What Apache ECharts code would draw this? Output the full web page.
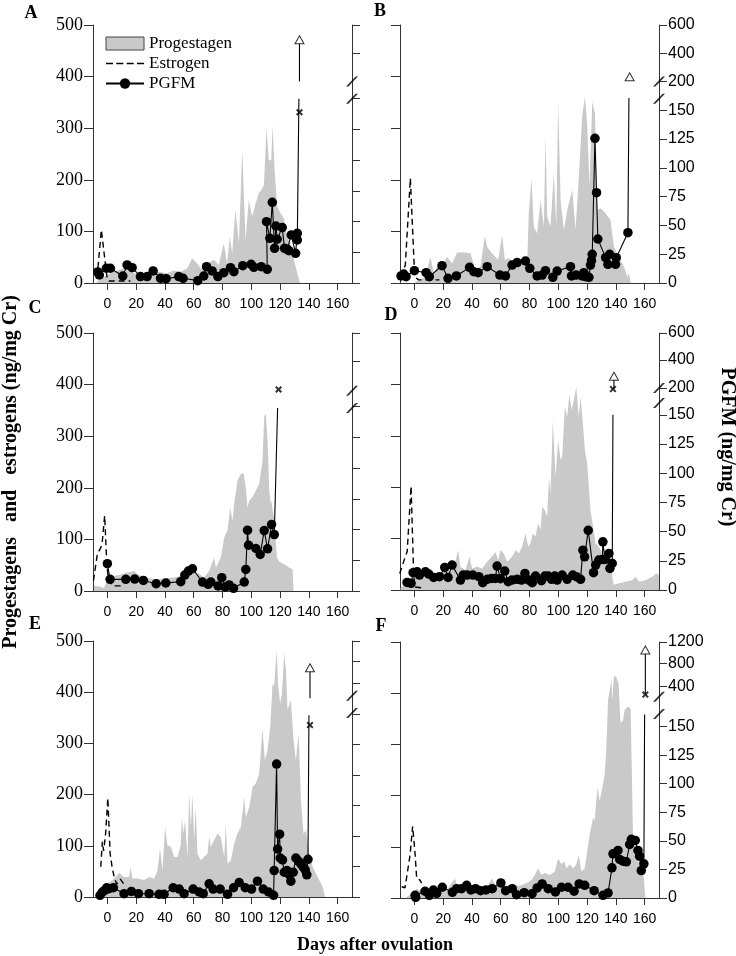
<!DOCTYPE html>
<html>
<head>
<meta charset="utf-8">
<script src="https://cdn.jsdelivr.net/npm/echarts@6/dist/echarts.min.js"></script>
<style>
  html, body { margin: 0; background: #fff; }
  #chart { width: 736px; height: 956px; }
</style>
</head>
<body>
<div id="chart"></div>
<script>
  // tick labels
  const dayTicks = [0, 20, 40, 60, 80, 100, 120, 140, 160]
  const pgfmLowTicks = [0, 25, 50, 75, 100, 125, 150]

  // progestagens (day, ng/mg Cr)
  const progA = [[-7.2,3],[-2.6,12],[4.4,22],[11.4,28],[18.3,19],[25.3,15],[31.1,26],[34.6,22],[41.5,19],[46.1,24],[50.8,22],[55.4,28],[58.9,48],[62.4,38],[65.9,25],[69.3,38],[74,45],[77.4,35],[80.9,77],[83.2,38],[85.1,90],[86.7,57],[89,141],[91.4,77],[93.7,258],[96,83],[98.3,161],[100.6,129],[103,154],[105.3,175],[107,180],[108.8,190],[110.6,300],[112.2,238],[113.9,238],[114.8,306],[116.2,219],[118,148],[120.3,135],[122.7,125],[124.5,96],[126.1,83],[127.3,77],[129.6,45],[132,19],[133.8,0]]
  const progB = [[0.7,3],[4.2,7],[7.7,12],[11.1,51],[13.4,19],[15.8,32],[18.1,25],[22.7,51],[26.2,38],[29.7,59],[35.5,59],[39,57],[42.4,25],[45.9,32],[48.9,90],[50.6,70],[54,57],[58.2,45],[61,93],[62.8,45],[65.6,48],[70.3,38],[74.9,41],[78.4,38],[79.5,135],[81.4,203],[83,109],[85.3,96],[87.7,161],[90,109],[91.1,287],[92.3,129],[94.6,109],[96.9,213],[98.6,109],[99.9,351],[101.6,161],[103.9,103],[106.2,141],[109.7,180],[112,103],[114.3,206],[116.6,322],[118.5,361],[120.1,309],[121.7,187],[123.6,351],[125.5,329],[127.1,141],[129.4,145],[132.9,135],[136.3,122],[138.7,70],[142.1,51],[145.6,32],[147.9,12],[149.1,19],[150.3,0]]
  const progC = [[-9.3,10],[-4.6,8],[-2.3,6],[-0.5,20],[0,26],[4.6,29],[9.3,32],[13.9,36],[18.6,39],[20.9,32],[27.8,25],[34.8,23],[41.7,25],[46.4,26],[51,29],[55.7,36],[62.6,36],[67.2,26],[70.7,39],[74.2,65],[75.4,45],[78.8,65],[81.2,104],[83.5,117],[85.3,162],[87,136],[88.1,169],[90.4,214],[92.8,227],[94.6,228],[96.2,201],[97.4,162],[98.6,175],[100.9,182],[103.2,195],[105.5,208],[107.8,253],[109,337],[110.1,344],[111.3,292],[112.5,195],[113.6,169],[114.1,175],[114.8,156],[115.9,143],[117.8,65],[119.4,57],[122.9,52],[126.4,45],[128.7,42],[129.4,0]]
  const progD = [[-9.7,3],[-6.3,13],[-1.6,19],[3,29],[6.5,32],[8.8,26],[12.3,23],[16.9,32],[21.6,36],[27.4,42],[30.4,78],[32,45],[35.5,39],[38.3,65],[40.1,42],[43.6,45],[47.1,42],[50.6,55],[54,65],[56.3,74],[58.2,58],[59.8,78],[62.1,71],[64.5,55],[67.9,65],[70.7,78],[72.6,71],[74.9,84],[77.2,110],[79.1,84],[80.7,91],[82.3,110],[84.2,104],[86,130],[87.7,117],[88.8,162],[90.7,155],[92.3,142],[93.5,220],[94.6,188],[96.2,330],[98.1,220],[99.9,291],[101.6,253],[102.7,259],[104.6,356],[106.2,337],[107.8,382],[109.2,350],[110.8,369],[112.5,395],[114.3,337],[115.5,376],[117.1,324],[118.5,272],[120.1,246],[122.4,155],[125.9,91],[128.2,84],[130.6,71],[134,78],[136.3,65],[137.5,26],[138.7,10],[142.1,13],[146.8,16],[151.4,19],[153.7,26],[156.1,16],[160.7,19],[165.3,26],[168.1,32],[170,29]]
  const progE = [[-5.8,1],[-3.5,13],[0,26],[3.5,33],[5.8,39],[8.1,47],[11.6,39],[15.1,39],[16.2,59],[17.4,36],[20.9,36],[25.5,33],[29,39],[32.5,36],[34.8,52],[36.6,95],[38.3,52],[40.1,137],[41.7,101],[44.1,98],[46.4,78],[48.7,78],[51,101],[51.7,156],[52.9,124],[54,150],[55.7,78],[56.8,202],[58,137],[59.1,200],[60.3,111],[61.4,176],[62.6,85],[64.9,72],[67.2,78],[69.6,85],[70.7,117],[71.9,98],[74.2,111],[76.5,124],[78.8,117],[81.2,78],[82.3,143],[83.5,65],[85.8,72],[88.1,104],[90.4,124],[92.8,137],[95.1,196],[96.2,156],[98.6,176],[100.9,215],[103.2,222],[105.5,241],[107.8,329],[109.4,267],[111.3,287],[113.2,333],[114.8,417],[115.9,411],[117.6,482],[118.7,411],[120.1,378],[121.3,398],[122.9,476],[124.1,443],[125.2,365],[126.4,365],[127.5,385],[129.4,306],[131,267],[132.9,319],[134.5,189],[136.3,124],[138,130],[140.3,85],[142.6,59],[144.9,46],[147.2,33],[149.6,20],[150.7,18],[151.2,0]]
  const progF = [[-5.3,2],[-1.8,9],[1.6,18],[5.1,12],[9.7,15],[14.3,12],[19,18],[22.4,15],[28.2,38],[30.5,18],[35.1,22],[39.8,22],[45.5,18],[51.3,25],[53.6,38],[57.1,22],[62.9,25],[68.7,22],[74.5,25],[79.1,31],[81.4,35],[83.7,45],[86,58],[88.3,45],[90.6,49],[94.1,45],[97.6,52],[99.9,77],[102.2,66],[104,72],[105.7,58],[108,66],[110.3,58],[112.6,66],[114.2,84],[116.1,52],[118.4,58],[119.5,79],[121.8,124],[124.2,157],[125.3,151],[127.2,216],[128.8,190],[129.9,190],[131.1,223],[132.3,241],[133.4,294],[134.6,387],[135.7,405],[136.9,426],[137.6,387],[138.7,434],[140.3,431],[141.9,418],[143.3,341],[145,347],[146.1,367],[148.4,374],[150.3,370],[151.9,124],[154.2,85],[157.7,52],[159.5,39],[160.5,0]]

  // estrogens (day, ng/mg Cr)
  const estA = [[-7.2,10],[-4.2,103],[-0.2,9],[1,4],[16,4]]
  const estB = [[-9.3,12],[-6.3,35],[-2.8,203],[0.2,12],[3,6],[17.4,6]]
  const estC = [[-9.7,20],[-7,71],[-4.6,84],[-3.5,97],[-1.9,146],[-0.5,58],[0.5,26],[3.5,10],[11.6,10]]
  const estD = [[-10.2,32],[-6.3,65],[-5,75],[-2.3,202],[-0.6,39],[0.2,6],[1.3,4],[5.3,4]]
  const estE = [[-4.6,59],[-3.5,108],[-2.6,90],[-1.2,125],[0.3,193],[1.9,85],[3.2,60],[4.6,40],[6.5,25],[9,35],[12.8,20]]
  const estF = [[-8.8,22],[-6.5,20],[-3,84],[-1.2,140],[0.5,85],[1.6,38],[3.9,35],[5,29]]

  // PGFM (day, ng/mg Cr on the lower, unbroken part of the right axis)
  const pgfmA = [[-6.7,9],[-5.6,6.5],[-0.7,12],[2.1,12],[10.7,5.7],[13.7,14.7],[17.2,12.5],[23,5.2],[27.6,5.2],[31.8,9.8],[36.9,3.8],[40.8,3.5],[49.6,5.2],[52.6,3.8],[62.8,1.9],[67,5.7],[68.9,13.3],[72.8,9.8],[76.8,5.2],[80.9,8.4],[85.6,12.5],[87.9,9.2],[94.1,14.1],[99.9,15.2],[101.8,12.8],[106.9,13.3],[111.1,11.1],[110.6,49.9],[112.9,36.4],[114.6,65.7],[116.2,28.2],[117.1,46.4],[118,35.6],[121.5,45.1],[123.1,28.2],[125,27.4],[126.1,26.3],[127.8,39.1],[130.8,24.2],[132,40.4],[132,35]]
  const pgfmB = [[-9.3,6.1],[-7.4,7.8],[-5.8,5.5],[0,10.7],[8.1,9],[10.4,5.5],[19.2,15],[23.4,4.1],[29.2,6.1],[38.3,13.6],[41.3,9.8],[44.3,9],[50.6,14.2],[59.4,6.9],[63.3,6.1],[67.9,15.6],[71.4,17.7],[77.2,19.1],[80.2,12.7],[85.3,6.1],[88.8,6.9],[91.1,10.7],[96.2,4.9],[99.2,10.4],[108.5,14.2],[109.2,6.1],[112.5,6.9],[116.6,6.1],[117.8,9],[119,5.5],[121.3,4.9],[122.4,15.6],[123.1,19.4],[123.6,24.9],[125.5,125.6],[126.6,78.4],[127.5,38.2],[132.9,22],[134.5,16.2],[135.7,24.9],[139.8,16.2],[140.3,22],[148.4,43.7]]
  const pgfmC = [[0,22.2],[1.9,9.5],[12.8,9.5],[19,9.7],[25,8.6],[33.9,5.9],[40.6,6.5],[51,7.6],[53.8,13],[56.3,16.2],[59.1,18.1],[66.1,7.3],[70,5.4],[71.9,7.3],[77,4.1],[79.5,10.8],[81.9,3.2],[84.6,4.9],[87.7,2.2],[95.1,7.3],[96.2,17.6],[97.4,49.5],[98.1,37.3],[103.2,34.6],[106.2,29.7],[109,49.2],[111.3,34.3],[114.1,54.1],[116,45.9]]
  const pgfmD = [[-5.1,6.5],[-2.3,5.7],[-0.9,14.8],[1.9,15.6],[3.5,12.8],[7.7,15.6],[10,13.6],[13.4,10.8],[17.4,11.4],[21.1,19.3],[23.4,10.8],[26.2,21.3],[32,8.5],[33.9,12.8],[36.6,12.8],[40.6,12.8],[44.8,11.4],[47.5,6.3],[50.6,9.1],[53.6,9.9],[56.3,9.9],[57.5,20.5],[59.8,9.7],[62.8,16.2],[65.2,7.1],[67.9,8.5],[71.4,9.1],[74.4,8.5],[76.8,14.2],[79.5,8.5],[81.9,6.3],[84.2,11.9],[88.3,8],[90.7,11.9],[93,11.9],[95.3,9.1],[97.6,11.9],[99.2,8.5],[102.7,12.8],[106.2,9.1],[110.1,12.8],[112.5,11.4],[115.5,9.1],[117.1,34.1],[118.3,28.4],[120.8,51.1],[124.5,14.8],[126,21.3],[128.2,25.6],[130.6,26.1],[131,41.2],[132.4,26.1],[135.2,31.3],[135.9,18.5],[137.5,22.7]]
  const pgfmE = [[-5.1,1.4],[-3.5,4.1],[-1.9,5.4],[-0.5,7.6],[1.2,6.8],[4.2,7.6],[11.6,2.7],[16.7,4.6],[21.6,2.7],[29,2.7],[35.9,2.2],[39.4,2.2],[45.7,7.6],[49.9,6.5],[53.3,2.7],[59.6,6.5],[63.8,4.1],[66.6,2.7],[70.7,10.8],[73.5,6.5],[78.4,6.5],[83.5,2.2],[87.7,7.6],[91.6,11.9],[95.8,7.6],[100.2,6.5],[104.3,13],[108.3,6.5],[112,4.1],[115.5,1.4],[115.9,21.7],[117.6,109],[118.3,39.3],[119.7,51.5],[120.1,32],[121.7,30.4],[122.9,20.3],[124.8,21.7],[126.4,18.4],[127.5,13],[129.2,20.3],[131,32],[132.9,29.3],[134.5,27.1],[136.1,24.4],[137.5,22.2],[138.6,18.2],[139.4,30.9]]
  const pgfmF = [[0.5,2.3],[0.9,0.6],[7.4,5.9],[10.4,2.3],[13.2,7],[15.5,4.1],[19.4,9.4],[26.4,5],[29.4,8.2],[32.8,8.2],[36.3,11.1],[39.3,7],[42.5,8.2],[46,6.4],[49.7,7],[54.1,8.2],[60.1,13.2],[63.4,6.4],[68,8.2],[71,2.9],[76.3,4.7],[81.8,3.8],[85.3,8.8],[88.8,12.3],[93,8.2],[98,5.3],[102.2,9.4],[106.8,9.4],[111,5.9],[114.5,12.3],[118.4,11.1],[124.9,6.4],[131.1,2.3],[134.6,4.4],[137.3,26.4],[138,38.7],[141.5,41.6],[142.7,33.7],[145,32.2],[147.3,31.7],[149.6,46.9],[150.8,51.3],[153.5,50.4],[155.4,41.6],[156.5,36.6],[157.7,24],[159.5,29.9]]

  // off-scale PGFM: top of the rise, cross, open triangle and its stem (right-axis units)
  const capA = [133.1, 150], crossA = [133.5, 139], triA = [133.5, 198], stemA = [164, 195]
  const capB = [149.1, 160.6], crossB = null, triB = [149.6, 179], stemB = null
  const capC = [118.3, 149], crossC = [119, 164], triC = null, stemC = null
  const capD = [138, 150], crossD = [138, 172], triD = [138.7, 183], stemD = [172, 181]
  const capE = [140.1, 149], crossE = [140.8, 141], triE = [140.8, 188], stemE = [163, 185]
  const capF = [160, 160.6], crossF = [160.5, 178], triF = [160.5, 217], stemF = [178, 214]

  // right axis: upper (compressed) ticks and their labels
  const upperA = [187, 210], upperLabA = null
  const upperB = [175, 199.5, 224], upperLabB = ['200', '400', '600']
  const upperC = [187, 210], upperLabC = null
  const upperD = [173, 197, 220], upperLabD = ['200', '400', '600']
  const upperE = [175, 193, 210], upperLabE = null
  const upperF = [185, 205, 224], upperLabF = ['400', '800', '1200']
  const breakA = [150, 164], breakB = [160, 175], breakC = [149, 163]
  const breakD = [160, 173], breakE = [151, 165], breakF = [161, 176]

  const panels = [
    {letter: 'A', prog: progA, est: estA, pgfm: pgfmA, cap: capA, cross: crossA, tri: triA, stem: stemA, upper: upperA, upperLab: upperLabA, brk: breakA, rmax: 210},
    {letter: 'B', prog: progB, est: estB, pgfm: pgfmB, cap: capB, cross: crossB, tri: triB, stem: stemB, upper: upperB, upperLab: upperLabB, brk: breakB, rmax: 224},
    {letter: 'C', prog: progC, est: estC, pgfm: pgfmC, cap: capC, cross: crossC, tri: triC, stem: stemC, upper: upperC, upperLab: upperLabC, brk: breakC, rmax: 210},
    {letter: 'D', prog: progD, est: estD, pgfm: pgfmD, cap: capD, cross: crossD, tri: triD, stem: stemD, upper: upperD, upperLab: upperLabD, brk: breakD, rmax: 220},
    {letter: 'E', prog: progE, est: estE, pgfm: pgfmE, cap: capE, cross: crossE, tri: triE, stem: stemE, upper: upperE, upperLab: upperLabE, brk: breakE, rmax: 210},
    {letter: 'F', prog: progF, est: estF, pgfm: pgfmF, cap: capF, cross: crossF, tri: triF, stem: stemF, upper: upperF, upperLab: upperLabF, brk: breakF, rmax: 224}
  ]

  // layout
  const boxes = [
    {left: 93, top: 25, height: 258}, {left: 400, top: 25, height: 258},
    {left: 93, top: 333, height: 258}, {left: 400, top: 333, height: 257},
    {left: 93, top: 641, height: 256}, {left: 400, top: 642, height: 256}
  ]
  const letterPos = [[31, 13], [380, 11], [35, 308], [391, 315], [35, 624], [381, 626]]

  const ink = '#000'
  const axisInk = '#333'
  const grey = '#c9c9c9'
  const crossPath = 'path://M0,2 L2,0 L5,3 L8,0 L10,2 L7,5 L10,8 L8,10 L5,7 L2,10 L0,8 L3,5 Z'
  const slashPath = 'path://M0,10 L8,0 L10,0 L2,10 Z'
  // dashed-line legend key, 38 x 13 box
  const dashPath = 'path://M0,0 L0.1,0 L0,0.1 Z M38,13 L37.9,13 L38,12.9 Z ' +
    'M0,5.8 L7,5.8 L7,7.2 L0,7.2 Z M10.3,5.8 L17.3,5.8 L17.3,7.2 L10.3,7.2 Z ' +
    'M20.7,5.8 L27.7,5.8 L27.7,7.2 L20.7,7.2 Z M31,5.8 L38,5.8 L38,7.2 L31,7.2 Z'

  const chart = echarts.init(document.getElementById('chart'))
  const grid = [], xAxis = [], yAxis = [], series = [], graphic = []

  panels.forEach((p, i) => {
    const b = boxes[i]
    const isLeft = i % 2 === 0
    grid.push({left: b.left, top: b.top, width: 259, height: b.height})
    xAxis.push({
      type: 'value', gridIndex: i, min: -10, max: 170,
      axisLine: {onZero: false, lineStyle: {color: axisInk}},
      axisTick: {length: 7, lineStyle: {color: axisInk}, customValues: dayTicks},
      axisLabel: {customValues: dayTicks, margin: 14, color: ink, fontFamily: 'Liberation Sans', fontSize: 14},
      splitLine: {show: false}
    })
    yAxis.push({
      type: 'value', gridIndex: i, position: 'left', min: 0, max: 500, interval: 100,
      axisLine: {show: true, onZero: false, lineStyle: {color: axisInk}},
      axisTick: {show: true, length: 9, lineStyle: {color: axisInk}},
      axisLabel: {show: isLeft, margin: 10, color: ink, fontFamily: 'Liberation Serif', fontSize: 18},
      splitLine: {show: false}
    })
    const rTicks = pgfmLowTicks.concat(p.upper)
    const labMap = {}
    if (p.upperLab) p.upper.forEach((v, k) => { labMap[v] = p.upperLab[k] })
    yAxis.push({
      type: 'value', gridIndex: i, position: 'right', min: 0, max: p.rmax,
      axisLine: {show: true, onZero: false, lineStyle: {color: axisInk}},
      axisTick: {show: true, length: 8, lineStyle: {color: axisInk}, customValues: rTicks},
      axisLabel: {
        show: !isLeft, customValues: rTicks, margin: 9, color: ink,
        fontFamily: 'Liberation Sans', fontSize: 16,
        formatter: v => (v <= 150 ? String(v) : (labMap[v] || ''))
      },
      splitLine: {show: false}
    })
    const yl = 2 * i, yr = 2 * i + 1

    series.push({
      name: 'Progestagen', type: 'line', xAxisIndex: i, yAxisIndex: yl,
      data: p.prog, symbol: 'none', lineStyle: {width: 0}, itemStyle: {color: grey},
      areaStyle: {color: grey, opacity: 1}, z: 1, silent: true
    })
    series.push({
      name: 'Estrogen', type: 'line', xAxisIndex: i, yAxisIndex: yl,
      data: p.est, symbol: 'none', itemStyle: {color: ink},
      lineStyle: {color: ink, width: 1.4, type: [6, 4]}, z: 3, silent: true
    })
    series.push({
      name: 'PGFM', type: 'line', xAxisIndex: i, yAxisIndex: yr,
      data: p.pgfm.concat([{value: p.cap, symbol: 'none'}]),
      symbol: 'circle', symbolSize: 9.5, showAllSymbol: true,
      itemStyle: {color: ink}, lineStyle: {color: ink, width: 1.1}, z: 4, silent: true
    })
    if (p.stem) {
      series.push({
        name: 'stem' + p.letter, type: 'line', xAxisIndex: i, yAxisIndex: yr,
        data: [[p.tri[0], p.stem[0]], [p.tri[0], p.stem[1]]], symbol: 'none',
        lineStyle: {color: ink, width: 1.1}, z: 4, silent: true
      })
    }
    if (p.tri) {
      series.push({
        name: 'tri' + p.letter, type: 'scatter', xAxisIndex: i, yAxisIndex: yr,
        data: [p.tri], symbol: 'triangle', symbolSize: [9, 8], clip: false,
        itemStyle: {color: '#fff', borderColor: ink, borderWidth: 1}, z: 5, silent: true
      })
    }
    if (p.cross) {
      series.push({
        name: 'cross' + p.letter, type: 'scatter', xAxisIndex: i, yAxisIndex: yr,
        data: [p.cross], symbol: crossPath, symbolSize: 7,
        itemStyle: {color: ink}, z: 5, silent: true
      })
    }
    series.push({
      name: 'break' + p.letter, type: 'scatter', xAxisIndex: i, yAxisIndex: yr,
      data: p.brk.map(v => [170, v]), symbol: slashPath, symbolSize: [12, 10],
      clip: false, itemStyle: {color: ink}, z: 6, silent: true
    })

    graphic.push({
      type: 'text', x: letterPos[i][0], y: letterPos[i][1],
      style: {text: p.letter, font: 'bold 18px "Liberation Serif"', fill: ink, textAlign: 'center', textVerticalAlign: 'middle'}
    })
  })

  graphic.push({
    type: 'text', x: 11, y: 472, rotation: Math.PI / 2,
    style: {text: 'Progestagens   and   estrogens (ng/mg Cr)', font: 'bold 20px "Liberation Serif"', fill: ink, textAlign: 'center', textVerticalAlign: 'middle'}
  })
  graphic.push({
    type: 'text', x: 727, y: 447, rotation: -Math.PI / 2,
    style: {text: 'PGFM (ng/mg Cr)', font: 'bold 20px "Liberation Serif"', fill: ink, textAlign: 'center', textVerticalAlign: 'middle'}
  })
  graphic.push({
    type: 'text', x: 375, y: 945,
    style: {text: 'Days after ovulation', font: 'bold 18px "Liberation Serif"', fill: ink, textAlign: 'center', textVerticalAlign: 'middle'}
  })

  chart.setOption({
    backgroundColor: '#fff',
    animation: false,
    legend: {
      orient: 'vertical', left: 100, top: 30, itemWidth: 38, itemHeight: 13, itemGap: 3,
      selectedMode: false,
      textStyle: {fontFamily: 'Liberation Serif', fontSize: 17, color: ink},
      data: [
        {name: 'Progestagen', icon: 'rect', itemStyle: {color: grey, borderColor: '#444', borderWidth: 1}},
        {name: 'Estrogen', icon: dashPath, itemStyle: {color: ink, borderWidth: 0}},
        {name: 'PGFM'}
      ]
    },
    grid: grid,
    xAxis: xAxis,
    yAxis: yAxis,
    series: series,
    graphic: graphic
  })
</script>
</body>
</html>
